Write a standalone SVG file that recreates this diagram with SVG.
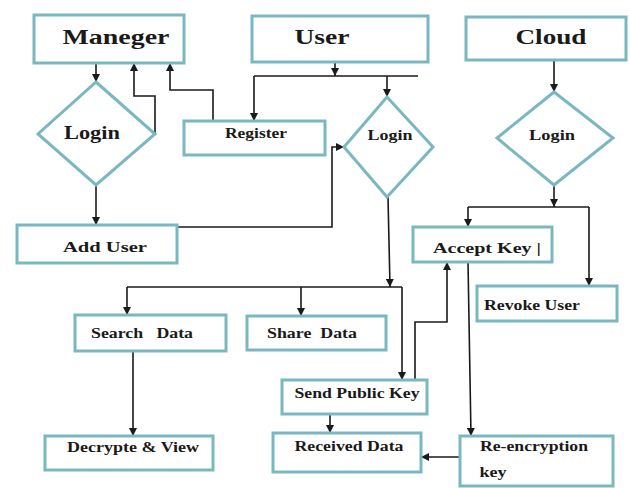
<svg xmlns="http://www.w3.org/2000/svg" width="630" height="488" viewBox="0 0 630 488">
<defs>
<marker id="arr" markerWidth="8" markerHeight="8" refX="8" refY="4" orient="auto" markerUnits="userSpaceOnUse">
<path d="M0,0 L8,4 L0,8 z" fill="#1a1a1a"/>
</marker>
</defs>
<style>
.box{fill:#ffffff;stroke:#7ab8c1;stroke-width:3}
.t{font-family:"Liberation Serif","Times New Roman",serif;font-weight:bold;fill:#1a1a1a;text-anchor:middle}
.big{font-size:22px}
.mid{font-size:18px}
.sm{font-size:15px}
.c{fill:none;stroke:#1a1a1a;stroke-width:1.6}
.a{marker-end:url(#arr)}
</style>
<rect width="630" height="488" fill="#ffffff"/>
<g id="connectors">
<path class="c a" d="M96,63 V82"/>
<path class="c a" d="M155,134 V96 H134 V63"/>
<path class="c a" d="M213,121 V90 H170 V63"/>
<path class="c a" d="M335,62 V76"/>
<path class="c" d="M254,76 H418"/>
<path class="c a" d="M254,76 V121"/>
<path class="c a" d="M387,76 V97"/>
<path class="c a" d="M554,60 V92"/>
<path class="c a" d="M96,185 V225"/>
<path class="c a" d="M177,227 H332 V147 H344"/>
<path class="c a" d="M388,197 L390,287"/>
<path class="c" d="M127,287 H402"/>
<path class="c a" d="M127,287 V315"/>
<path class="c a" d="M301,287 V316"/>
<path class="c a" d="M402,287 V380"/>
<path class="c a" d="M415,380 V322 H447 V262"/>
<path class="c a" d="M330,414 V433"/>
<path class="c a" d="M460,457 H421"/>
<path class="c a" d="M554,185 V207"/>
<path class="c" d="M468,207 H589"/>
<path class="c a" d="M468,207 V227"/>
<path class="c a" d="M589,207 V286"/>
<path class="c a" d="M468,262 L471,436"/>
<path class="c a" d="M133,351 V436"/>
</g>
<g id="maneger">
<rect class="box" x="34" y="15" width="150" height="48"/>
<text class="t big" x="116" y="44" textLength="107" lengthAdjust="spacingAndGlyphs">Maneger</text>
</g>
<g id="user">
<rect class="box" x="252" y="16" width="176" height="46"/>
<text class="t big" x="322" y="44" textLength="55" lengthAdjust="spacingAndGlyphs">User</text>
</g>
<g id="cloud">
<rect class="box" x="466" y="17" width="160" height="43"/>
<text class="t big" x="551" y="44" textLength="71" lengthAdjust="spacingAndGlyphs">Cloud</text>
</g>
<g id="login-manager">
<path class="box" d="M96,82 L155,134 L96,185 L38,134 Z"/>
<text class="t mid" x="92" y="139" textLength="56" lengthAdjust="spacingAndGlyphs">Login</text>
</g>
<g id="register">
<rect class="box" x="184" y="121" width="141" height="34"/>
<text class="t sm" x="256" y="138" textLength="62" lengthAdjust="spacingAndGlyphs">Register</text>
</g>
<g id="login-user">
<path class="box" d="M387,97 L433,147 L387,197 L344,147 Z"/>
<text class="t sm" x="390" y="140" textLength="45" lengthAdjust="spacingAndGlyphs">Login</text>
</g>
<g id="login-cloud">
<path class="box" d="M554,92 L613,138 L554,185 L497,138 Z"/>
<text class="t sm" x="552" y="140" textLength="46" lengthAdjust="spacingAndGlyphs">Login</text>
</g>
<g id="add-user">
<rect class="box" x="17" y="225" width="160" height="38"/>
<text class="t sm" x="105" y="252" textLength="84" lengthAdjust="spacingAndGlyphs">Add User</text>
</g>
<g id="accept-key">
<rect class="box" x="413" y="227" width="139" height="35"/>
<text class="t sm" x="487" y="253" textLength="108" lengthAdjust="spacingAndGlyphs">Accept Key |</text>
</g>
<g id="revoke-user">
<rect class="box" x="477" y="286" width="140" height="35"/>
<text class="t sm" x="532" y="310" textLength="96" lengthAdjust="spacingAndGlyphs">Revoke User</text>
</g>
<g id="search-data">
<rect class="box" x="75" y="315" width="151" height="36"/>
<text class="t sm" x="142" y="338" textLength="102" lengthAdjust="spacingAndGlyphs" xml:space="preserve">Search   Data</text>
</g>
<g id="share-data">
<rect class="box" x="247" y="316" width="139" height="34"/>
<text class="t sm" x="312" y="338" textLength="90" lengthAdjust="spacingAndGlyphs" xml:space="preserve">Share  Data</text>
</g>
<g id="send-public-key">
<rect class="box" x="282" y="380" width="145" height="34"/>
<text class="t sm" x="357" y="398" textLength="125" lengthAdjust="spacingAndGlyphs">Send Public Key</text>
</g>
<g id="received-data">
<rect class="box" x="273" y="433" width="148" height="39"/>
<text class="t sm" x="349" y="451" textLength="109" lengthAdjust="spacingAndGlyphs">Received Data</text>
</g>
<g id="re-encryption-key">
<rect class="box" x="460" y="436" width="153" height="50"/>
<text class="t sm" x="534" y="451" textLength="108" lengthAdjust="spacingAndGlyphs">Re-encryption</text>
<text class="t sm" x="493" y="477" textLength="27" lengthAdjust="spacingAndGlyphs">key</text>
</g>
<g id="decrypte-view">
<rect class="box" x="45" y="436" width="168" height="34"/>
<text class="t sm" x="133" y="452" textLength="132" lengthAdjust="spacingAndGlyphs">Decrypte &amp; View</text>
</g>
</svg>
